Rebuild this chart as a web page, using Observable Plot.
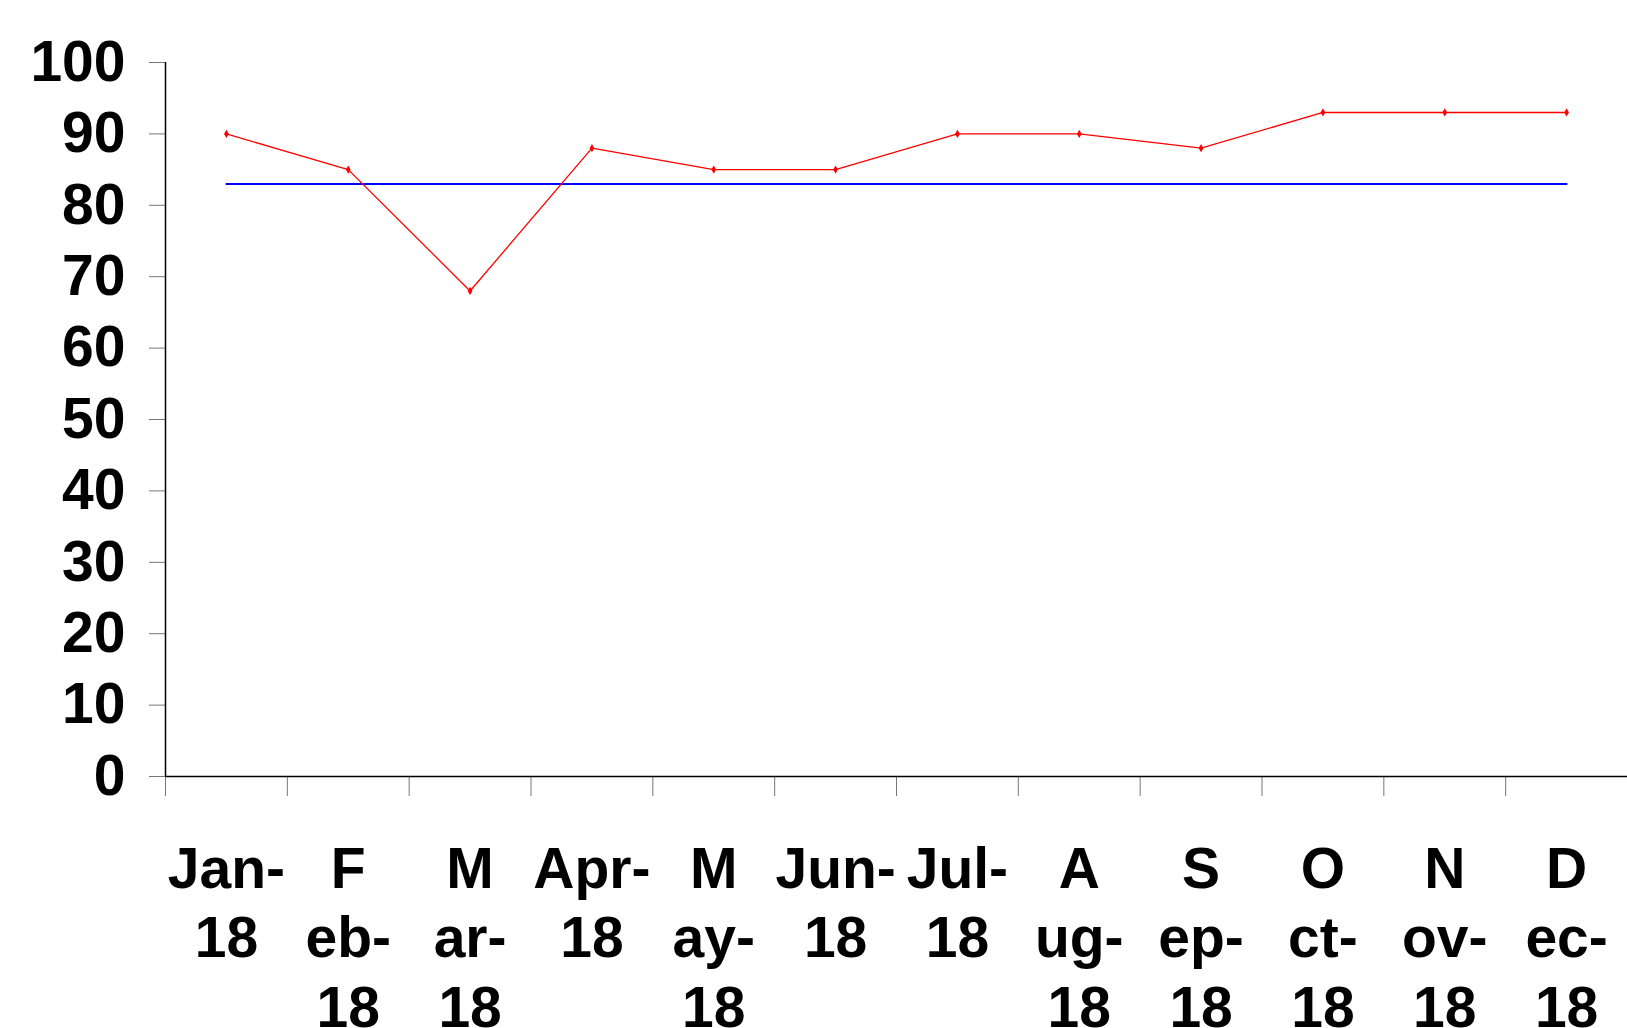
<!DOCTYPE html>
<html><head><meta charset="utf-8">
<script src="https://cdn.jsdelivr.net/npm/d3@7"></script>
<script src="https://cdn.jsdelivr.net/npm/@observablehq/plot@0.6"></script>
<style>html,body{margin:0;padding:0;background:#fff;overflow:hidden}</style>
</head><body><div id="chart"></div>
<script>
const months = ["Jan-18","Feb-18","Mar-18","Apr-18","May-18","Jun-18","Jul-18","Aug-18","Sep-18","Oct-18","Nov-18","Dec-18"];
const tickLabels = ["Jan-\n18","F\neb-\n18","M\nar-\n18","Apr-\n18","M\nay-\n18","Jun-\n18","Jul-\n18","A\nug-\n18","S\nep-\n18","O\nct-\n18","N\nov-\n18","D\nec-\n18"];
const actual = [90,85,68,88,85,85,90,90,88,93,93,93];
const target = [83,83,83,83,83,83,83,83,83,83,83,83];
const yTicks = [0,10,20,30,40,50,60,70,80,90,100];

const data = months.map((m, i) => ({month: m, x: i + 0.5, actual: actual[i], target: target[i]}));
const font = "'Liberation Sans', Arial, sans-serif";

const chart = Plot.plot({
  width: 1627, height: 1028,
  marginLeft: 165, marginRight: 0, marginTop: 62, marginBottom: 252,
  style: {fontFamily: font, fontWeight: "bold", background: "white", color: "black", overflow: "visible"},
  x: {type: "linear", domain: [0, months.length], label: null},
  y: {domain: [0, 100], label: null},
  marks: [
    Plot.axisY({ticks: yTicks, tickSize: 16, tickPadding: 24, stroke: "#777", fill: "black", fontSize: 57, fontWeight: "bold", tickFormat: d => String(d), label: null}),
    Plot.axisX({ticks: d3.range(months.length + 1), tickSize: 20, tickFormat: () => "", stroke: "#777", label: null}),
    Plot.axisX({ticks: data.map(d => d.x), tickSize: 0, tickPadding: 62, tickFormat: v => tickLabels[Math.floor(v)], fill: "black", fontSize: 57, fontWeight: "bold", lineHeight: 1.22, label: null}),
    Plot.ruleY([0], {stroke: "black", strokeWidth: 1.5}),
    Plot.ruleX([0], {stroke: "black", strokeWidth: 1.5}),
    Plot.line(data, {x: "x", y: "target", stroke: "#0000ff", strokeWidth: 2}),
    Plot.line(data, {x: "x", y: "actual", stroke: "#ff0000", strokeWidth: 1.3}),
    Plot.dot(data, {x: "x", y: "actual", symbol: "diamond", r: 2.5, fill: "#ff0000", stroke: "none"})
  ]
});
document.getElementById("chart").appendChild(chart);
</script>
</body></html>
